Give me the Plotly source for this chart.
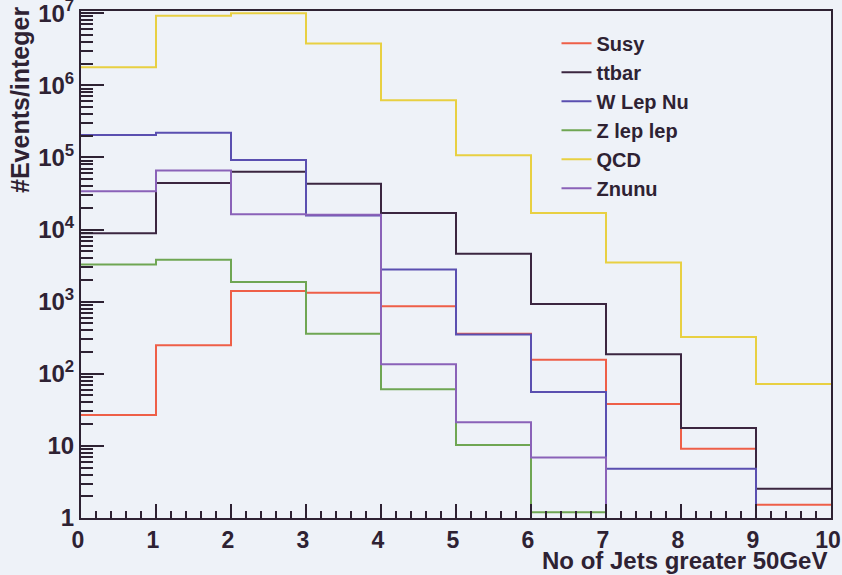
import plotly.graph_objects as go

# Bin edges: number of jets with pT > 50 GeV, one bin per integer
bin_edges = [0, 1, 2, 3, 4, 5, 6, 7, 8, 9, 10]

susy = [26.7, 249, 1400, 1330, 860, 360, 156, 38, 9.1, 1.53]
ttbar = [8900, 44000, 63000, 43000, 17000, 4600, 930, 187, 17.7, 2.55]
w_lep_nu = [204000, 220000, 92000, 15600, 2800, 350, 56, 4.8, 4.8, 0]
z_lep_lep = [3270, 3800, 1870, 360, 61, 10.3, 1.2, 0, 0, 0]
qcd = [1780000, 9200000, 10000000, 3800000, 620000, 107000, 17000, 3500, 323, 72]
znunu = [34000, 66000, 16300, 16000, 136, 21.3, 6.9, 0, 0, 0]

series_names = ["Susy", "ttbar", "W Lep Nu", "Z lep lep", "QCD", "Znunu"]
series_values = [susy, ttbar, w_lep_nu, z_lep_lep, qcd, znunu]
series_colors = ["#ee5f48", "#3b2640", "#5a4fb0", "#6fa653", "#e8d042", "#8a62b8"]

y_tick_vals = [1, 10, 100, 1e3, 1e4, 1e5, 1e6, 1e7]
y_tick_text = ["1", "10", "10<sup>2</sup>", "10<sup>3</sup>", "10<sup>4</sup>",
               "10<sup>5</sup>", "10<sup>6</sup>", "10<sup>7</sup>"]

BG = "#eef2f8"
INK = "#2e2233"
FONT = "Liberation Sans, Arial, sans-serif"

# Empty bins fall below the log axis so the step drops to the frame
FLOOR = 0.5

fig = go.Figure()
for name, vals, col in zip(series_names, series_values, series_colors):
    ys = [v if v > 0 else FLOOR for v in vals]
    fig.add_trace(go.Scatter(
        x=bin_edges, y=ys + [ys[-1]],
        mode="lines", line=dict(shape="hv", color=col, width=2),
        name=name, legendgroup=name, hoverinfo="skip",
    ))

minor_y = [m * 10 ** d for d in range(0, 7) for m in range(2, 10)]

fig.update_layout(
    width=842, height=575,
    margin=dict(l=81, r=11, t=11, b=57, autoexpand=False),
    paper_bgcolor=BG, plot_bgcolor=BG,
    font=dict(family=FONT, color=INK, size=20),
    showlegend=True,
    legend=dict(
        x=0.634, y=0.975, xanchor="left", yanchor="top",
        bgcolor="rgba(0,0,0,0)", borderwidth=0,
        font=dict(family=FONT, size=20, color=INK, weight="bold"),
        tracegroupgap=0,
    ),
    xaxis=dict(
        range=[0, 10], showgrid=False, zeroline=False, automargin=False,
        showline=True, linecolor=INK, linewidth=2, mirror=True,
        ticks="inside", ticklen=14, tickwidth=2, tickcolor=INK,
        tickmode="linear", tick0=0, dtick=1,
        minor=dict(ticks="inside", ticklen=7, tickwidth=2, tickcolor=INK, dtick=0.2, showgrid=False),
        tickfont=dict(family=FONT, size=23, color=INK, weight="bold"),
        ticklabeloverflow="allow", ticklabelshift=-3,
    ),
    yaxis=dict(
        type="log", range=[0, 7.03], showgrid=False, zeroline=False, automargin=False,
        showline=True, linecolor=INK, linewidth=2, mirror=True,
        ticks="inside", ticklen=23, tickwidth=2, tickcolor=INK,
        tickmode="array", tickvals=y_tick_vals, ticktext=y_tick_text,
        minor=dict(ticks="inside", ticklen=12, tickwidth=2, tickcolor=INK,
                   tickmode="array", tickvals=minor_y, showgrid=False),
        tickfont=dict(family=FONT, size=24, color=INK, weight="bold"),
        ticklabeloverflow="allow",
    ),
)

fig.add_annotation(
    text="No of Jets greater 50GeV", xref="paper", yref="paper",
    x=1.0, y=0, xanchor="right", yanchor="top", xshift=-2, yshift=-27, showarrow=False,
    font=dict(family=FONT, size=24, color=INK, weight="bold"),
)
fig.add_annotation(
    text="#Events/integer", xref="paper", yref="paper",
    x=0, y=1.0, xanchor="center", yanchor="top", xshift=-61, yshift=6,
    textangle=-90, showarrow=False,
    font=dict(family=FONT, size=25, color=INK, weight="bold"),
)

fig.write_html("out.html")
